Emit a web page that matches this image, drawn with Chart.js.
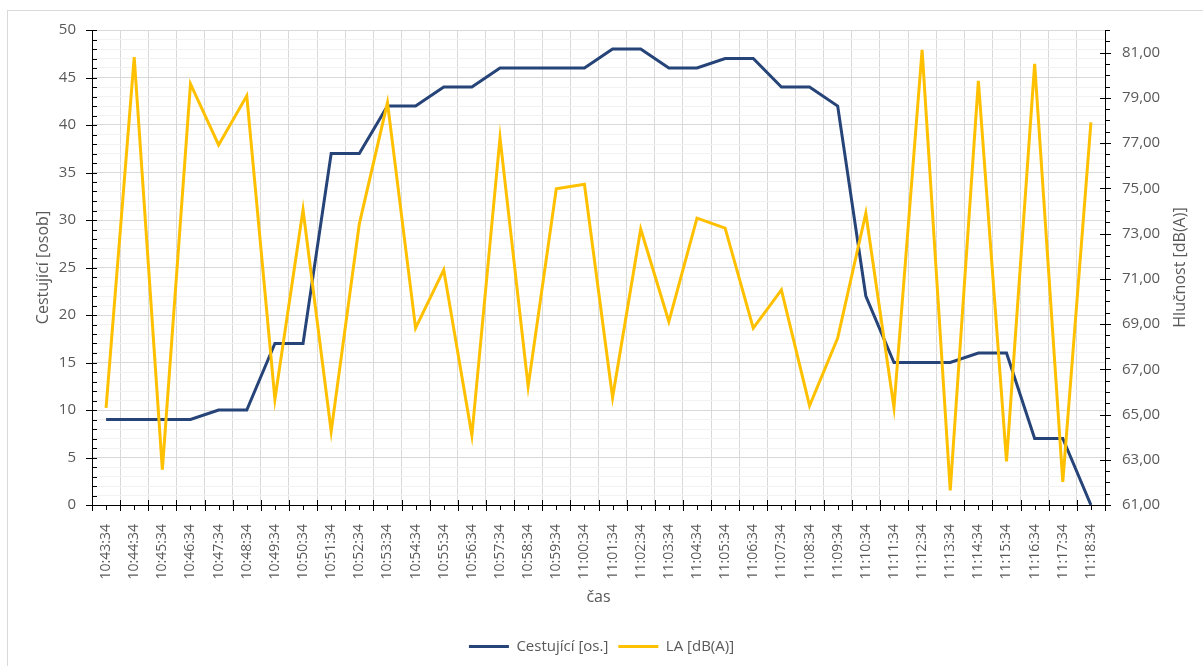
<!DOCTYPE html>
<html>
<head>
<meta charset="utf-8">
<script src="https://cdn.jsdelivr.net/npm/chart.js@4"></script>
<style>
  html, body { margin: 0; padding: 0; background: #fff; overflow: hidden; }
  #wrap { position: relative; width: 1203px; height: 666px; }
  #frame { position: absolute; left: 7px; top: 10px; width: 1300px; height: 700px; border: 1px solid #d9d9d9; box-sizing: border-box; }
  #c { position: absolute; left: 0; top: 0; }
</style>
</head>
<body>
<div id="wrap">
  <div id="frame"></div>
  <canvas id="c" width="1203" height="666"></canvas>
</div>
<script>
// ---- data ----
const casLabels = [
  "10:43:34","10:44:34","10:45:34","10:46:34","10:47:34","10:48:34","10:49:34","10:50:34","10:51:34","10:52:34",
  "10:53:34","10:54:34","10:55:34","10:56:34","10:57:34","10:58:34","10:59:34","11:00:34","11:01:34","11:02:34",
  "11:03:34","11:04:34","11:05:34","11:06:34","11:07:34","11:08:34","11:09:34","11:10:34","11:11:34","11:12:34",
  "11:13:34","11:14:34","11:15:34","11:16:34","11:17:34","11:18:34"
];
const cestujici = [9,9,9,9,10,10,17,17,37,37,42,42,44,44,46,46,46,46,48,48,46,46,47,47,44,44,42,22,15,15,15,16,16,7,7,0];
const hlucnost = [65.29,80.80,62.56,79.62,76.92,79.09,65.68,74.05,64.25,73.43,
                  78.79,68.82,71.40,64.08,77.24,66.24,74.98,75.18,65.75,73.20,
                  69.11,73.68,73.24,68.82,70.51,65.39,68.38,73.90,65.31,81.12,
                  61.65,79.75,62.93,80.50,62.02,77.92];
const seriesNames = ["Cestující [os.]", "LA [dB(A)]"];
const leftAxisTitle = "Cestující [osob]";
const rightAxisTitle = "Hlučnost [dB(A)]";
const xAxisTitle = "čas";
const leftRange = [0, 50];      // major step 5, minor step 1
const rightRange = [61, 82];    // major labels 61,63,...,81, minor step 0.5

const FONT = "'Open Sans', 'DejaVu Sans', sans-serif";
const TXT = "#595959";
const AREA_BOTTOM = 505;
const PAD_BOTTOM = 2;

// custom tick marks (major crossing, minor short) + right-axis title
const excelAxes = {
  id: 'excelAxes',
  afterDraw(chart) {
    const ctx = chart.ctx;
    const a = chart.chartArea;
    ctx.save();
    ctx.strokeStyle = '#000';
    ctx.lineWidth = 1;
    ctx.beginPath();
    const ys = chart.scales.y;
    ys.ticks.forEach(t => {
      const p = Math.round(ys.getPixelForValue(t.value)) + 0.5;
      const major = t.value % 5 === 0;
      ctx.moveTo(a.left - (major ? 6 : 0), p);
      ctx.lineTo(a.left + 5, p);
    });
    const y1 = chart.scales.y1;
    y1.ticks.forEach(t => {
      const p = Math.round(y1.getPixelForValue(t.value)) + 0.5;
      const major = Math.abs((t.value - rightRange[0]) % 2) < 1e-9;
      ctx.moveTo(a.right - (major ? 5 : 0), p);
      ctx.lineTo(a.right + (major ? 6 : 5), p);
    });
    const xs = chart.scales.x;
    for (let i = 0; i <= casLabels.length; i++) {
      const p = Math.round(xs.getPixelForValue(i - 0.5)) + 0.5;
      ctx.moveTo(p, a.bottom - 5);
      ctx.lineTo(p, a.bottom + 6);
    }
    for (let i = 0; i < casLabels.length; i++) {
      const p = Math.round(xs.getPixelForValue(i)) + 0.5;
      ctx.moveTo(p, a.bottom);
      ctx.lineTo(p, a.bottom + 5);
    }
    ctx.stroke();
    // right axis title, reading bottom-to-top
    ctx.fillStyle = TXT;
    ctx.font = "16px " + FONT;
    ctx.textAlign = 'center';
    ctx.textBaseline = 'middle';
    ctx.translate(1180, (a.top + a.bottom) / 2);
    ctx.rotate(-Math.PI / 2);
    ctx.fillText(rightAxisTitle, 0, 0);
    ctx.restore();
  }
};

new Chart(document.getElementById('c'), {
  type: 'line',
  data: {
    labels: casLabels,
    datasets: [
      { label: seriesNames[0], data: cestujici, yAxisID: 'y', borderColor: '#264478', backgroundColor: '#264478',
        borderWidth: 3, pointRadius: 0, tension: 0, order: 1 },
      { label: seriesNames[1], data: hlucnost, yAxisID: 'y1', borderColor: '#FFC000', backgroundColor: '#FFC000',
        borderWidth: 3, pointRadius: 0, tension: 0, order: 0 }
    ]
  },
  options: {
    responsive: false,
    animation: false,
    events: [],
    layout: { padding: { top: 30, bottom: PAD_BOTTOM, left: 0, right: 0 } },
    plugins: {
      tooltip: { enabled: false },
      legend: {
        position: 'bottom',
        labels: {
          usePointStyle: true, pointStyle: 'line', pointStyleWidth: 40,
          color: TXT, font: { family: FONT, size: 15 }, padding: 10,
          sort: (a, b) => a.datasetIndex - b.datasetIndex
        }
      }
    },
    scales: {
      x: {
        type: 'category',
        offset: true,
        grid: { offset: true, color: '#d9d9d9', lineWidth: 1, drawTicks: false },
        border: { color: '#000', width: 1 },
        ticks: { autoSkip: false, minRotation: 90, maxRotation: 90, padding: 19, color: TXT,
                 font: { family: FONT, size: 14 } },
        title: { display: true, text: xAxisTitle, color: TXT, font: { family: FONT, size: 16 },
                 padding: { top: 0, bottom: 22 } },
        afterFit: s => { s.height = s.chart.height - AREA_BOTTOM - s.chart.legend.height - PAD_BOTTOM; }
      },
      y: {
        position: 'left',
        min: leftRange[0], max: leftRange[1],
        grid: { color: c => (c.tick && c.tick.value % 5 === 0) ? '#d9d9d9' : '#f2f2f2', drawTicks: false },
        border: { color: '#000', width: 1 },
        ticks: { stepSize: 1, autoSkip: false, padding: 16, color: TXT, font: { family: FONT, size: 15 },
                 callback: v => (v % 5 === 0 ? String(v) : '') },
        title: { display: true, text: leftAxisTitle, color: TXT, font: { family: FONT, size: 16 },
                 padding: { top: 34, bottom: 0 } },
        afterFit: s => { s.width = 92; }
      },
      y1: {
        position: 'right',
        min: rightRange[0], max: rightRange[1],
        grid: { drawOnChartArea: false, drawTicks: false },
        border: { color: '#000', width: 1 },
        ticks: { stepSize: 0.5, autoSkip: false, padding: 17, color: TXT, font: { family: FONT, size: 15 },
                 callback: v => (Math.abs((v - rightRange[0]) % 2) < 1e-9 ? v.toFixed(2).replace('.', ',') : '') },
        afterFit: s => { s.width = 98; }
      }
    }
  },
  plugins: [excelAxes]
});
</script>
</body>
</html>
